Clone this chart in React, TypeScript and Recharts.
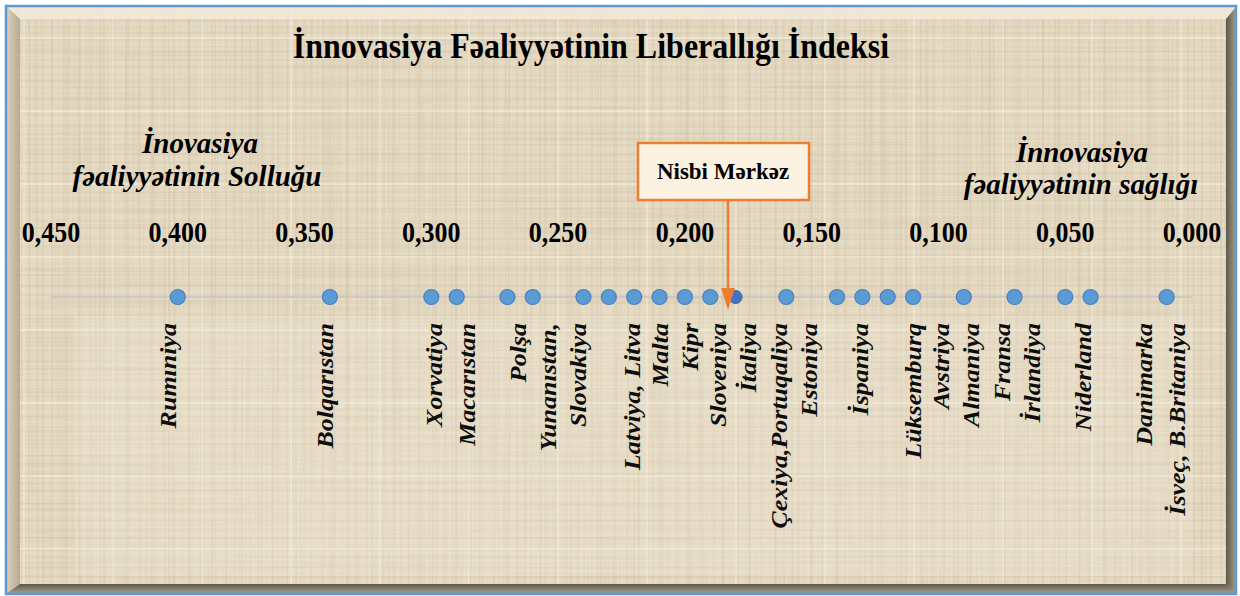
import React from "react";
import { ScatterChart, Scatter, XAxis, YAxis, ReferenceDot } from "recharts";

const W = 1240;
const H = 596;
const SERIF = '"Liberation Serif", "Times New Roman", serif';

// scale ticks, read right to left (0,450 on the left)
const axisTicks = [0.45, 0.4, 0.35, 0.3, 0.25, 0.2, 0.15, 0.1, 0.05, 0];

// index values of the blue points
const dotValues = [
  0.4, 0.34, 0.3, 0.29, 0.27, 0.26, 0.24, 0.23, 0.22, 0.21, 0.2, 0.19, 0.16,
  0.14, 0.13, 0.12, 0.11, 0.09, 0.07, 0.05, 0.04, 0.01,
];
const centerValue = 0.18; // "Nisbi Mərkəz" point
const centerArrow = 0.183;

const countryNames = [
  "Rumıniya",
  "Bolqarıstan",
  "Xorvatiya",
  "Macarıstan",
  "Polşa",
  "Yunanıstan,",
  "Slovakiya",
  "Latviya, Litva",
  "Malta",
  "Kipr",
  "Sloveniya",
  "İtaliya",
  "Çexiya,Portuqaliya",
  "Estoniya",
  "İspaniya",
  "Lüksemburq",
  "Avstriya",
  "Almaniya",
  "Fransa",
  "İrlandiya",
  "Niderland",
  "Danimarka",
  "İsveç, B.Britaniya",
];
// where each name sits on the scale
const countryLabelAt = [
  0.404, 0.342, 0.299, 0.286, 0.266, 0.254, 0.242, 0.221, 0.21, 0.198, 0.187,
  0.175, 0.163, 0.151, 0.131, 0.11, 0.099, 0.087, 0.075, 0.063, 0.043, 0.019,
  0.006,
];

const dots = dotValues.map((v) => ({ x: v, y: 0 }));
const center = [{ x: centerValue, y: 0 }];
const names = countryNames.map((n, i) => ({ x: countryLabelAt[i], y: 0, name: n }));

const fmt = (v: number) => v.toFixed(3).replace(".", ",");

function Background() {
  return (
    <svg width={W} height={H} style={{ position: "absolute", left: 0, top: 0 }}>
      <defs>
        <pattern id="weaveA" width="61" height="47" patternUnits="userSpaceOnUse">
          <path d="M0 4H61M0 13H61M0 21H61M0 33H61M0 40H61" stroke="#cbbb9c" strokeWidth="1.2" opacity="0.35" />
          <path d="M6 0V47M18 0V47M29 0V47M43 0V47M52 0V47" stroke="#cbbb9c" strokeWidth="1.4" opacity="0.3" />
        </pattern>
        <pattern id="weaveB" width="89" height="73" patternUnits="userSpaceOnUse">
          <path d="M0 9H89M0 27H89M0 52H89M0 66H89" stroke="#c2b292" strokeWidth="1" opacity="0.25" />
          <path d="M11 0V73M37 0V73M64 0V73M80 0V73" stroke="#c2b292" strokeWidth="1.6" opacity="0.22" />
          <path d="M0 38H89" stroke="#f8f2e4" strokeWidth="2" opacity="0.5" />
          <path d="M24 0V73" stroke="#f8f2e4" strokeWidth="2" opacity="0.4" />
        </pattern>
        <filter id="streakH" x="0" y="0" width="100%" height="100%">
          <feTurbulence type="fractalNoise" baseFrequency="0.004 0.35" numOctaves="2" seed="4" />
          <feColorMatrix type="matrix" values="0 0 0 0 0.62  0 0 0 0 0.54  0 0 0 0 0.40  1.3 0 0 0 -0.55" />
        </filter>
        <filter id="streakV" x="0" y="0" width="100%" height="100%">
          <feTurbulence type="fractalNoise" baseFrequency="0.35 0.004" numOctaves="2" seed="9" />
          <feColorMatrix type="matrix" values="0 0 0 0 0.62  0 0 0 0 0.54  0 0 0 0 0.40  1.3 0 0 0 -0.55" />
        </filter>
        <linearGradient id="rightBevel" x1="0" x2="1">
          <stop offset="0" stopColor="#5e584b" />
          <stop offset="1" stopColor="#a49c8a" />
        </linearGradient>
        <linearGradient id="bottomBevel" x1="0" x2="0" y1="0" y2="1">
          <stop offset="0" stopColor="#5e584b" />
          <stop offset="1" stopColor="#a49c8a" />
        </linearGradient>
        <linearGradient id="leftBevel" x1="0" x2="1">
          <stop offset="0" stopColor="#d9cdb5" />
          <stop offset="1" stopColor="#aea48f" />
        </linearGradient>
      </defs>
      <rect width={W} height={H} fill="#ffffff" />
      <rect x={6} y={6} width={1230} height={588} fill="#e7dcc5" />
      <rect x={6} y={6} width={1230} height={588} filter="url(#streakH)" opacity="0.6" />
      <rect x={6} y={6} width={1230} height={588} filter="url(#streakV)" opacity="0.6" />
      <rect x={6} y={6} width={1230} height={588} fill="url(#weaveA)" />
      <rect x={6} y={6} width={1230} height={588} fill="url(#weaveB)" />
      {/* bevel */}
      <polygon points="7,7 1236,7 1226,19 20,19" fill="#f2ead9" opacity="0.85" />
      <polygon points="7,7 20,19 20,584 7,593" fill="url(#leftBevel)" opacity="0.85" />
      <polygon points="1236,7 1226,19 1226,584 1236,593" fill="url(#rightBevel)" />
      <polygon points="7,593 20,584 1226,584 1236,593" fill="url(#bottomBevel)" />
      <rect x={6} y={6} width={1230} height={588} fill="none" stroke="#5b9bd5" strokeWidth={2.5} />
      {/* label panel */}
      <rect x={75} y={316} width={1118} height={260} fill="#f4eddd" opacity="0.25" />

      <text
        transform="translate(591,58) scale(1,1.1)"
        textAnchor="middle"
        fontFamily={SERIF}
        fontWeight="bold"
        fontSize={32}
        fill="#000"
      >
        İnnovasiya Fəaliyyətinin Liberallığı İndeksi
      </text>

      <g fontFamily={SERIF} fontWeight="bold" fontStyle="italic" fontSize={29} fill="#000" textAnchor="middle">
        <text x={200} y={153}>İnovasiya</text>
        <text x={197} y={186}>fəaliyyətinin Solluğu</text>
        <text x={1082} y={162}>İnnovasiya</text>
        <text x={1081} y={194}>fəaliyyətinin sağlığı</text>
      </g>
    </svg>
  );
}

function NameLabel(props: any) {
  const { cx, cy, payload } = props;
  return (
    <text
      transform={`translate(${cx + 8},${cy + 26}) rotate(-90) scale(1.13,1)`}
      textAnchor="end"
      fontFamily={SERIF}
      fontWeight="bold"
      fontStyle="italic"
      fontSize={23}
      fill="#0d0d0d"
    >
      {payload.name}
    </text>
  );
}

function Dot(props: any) {
  const { cx, cy } = props;
  return <circle cx={cx} cy={cy} r={7.5} fill="#5b9bd5" stroke="#4a7fc0" strokeWidth={1.2} />;
}

function CenterDot(props: any) {
  const { cx, cy } = props;
  return <circle cx={cx} cy={cy} r={6.5} fill="#4472c4" stroke="#3b64b0" strokeWidth={1} />;
}

function Callout(props: any) {
  const { cx, cy } = props;
  const bx = cx - 90;
  return (
    <g>
      <rect x={bx} y={143} width={171} height={57} fill="#fbf2e2" stroke="#ed7d31" strokeWidth={2.5} />
      <text x={bx + 85} y={179} textAnchor="middle" fontFamily={SERIF} fontWeight="bold" fontSize={23} fill="#000">
        Nisbi Mərkəz
      </text>
      <line x1={cx} y1={200} x2={cx} y2={cy - 8} stroke="#ed7d31" strokeWidth={2.5} />
      <polygon points={`${cx - 7},${cy - 9} ${cx + 7},${cy - 9} ${cx},${cy + 13}`} fill="#ed7d31" />
    </g>
  );
}

function TopTick(props: any) {
  const { x, y, payload } = props;
  return (
    <text
      transform={`translate(${x},${y}) scale(1,1.12)`}
      textAnchor="middle"
      fontFamily={SERIF}
      fontWeight="bold"
      fontSize={26}
      fill="#000"
    >
      {fmt(payload.value)}
    </text>
  );
}

export default function App() {
  return (
    <div style={{ position: "relative", width: W, height: H }}>
      <style>{"body{margin:0}"}</style>
      <Background />
      <div style={{ position: "absolute", left: 0, top: 0 }}>
        <ScatterChart width={W} height={H} margin={{ top: 230, right: 48, bottom: 279, left: 51 }}>
          <XAxis
            xAxisId="top"
            orientation="top"
            height={20}
            type="number"
            dataKey="x"
            domain={[0, 0.45]}
            reversed
            ticks={axisTicks}
            interval={0}
            axisLine={false}
            tickLine={false}
            tickSize={0}
            tickMargin={8}
            tick={<TopTick />}
          />
          <XAxis
            xAxisId="bottom"
            orientation="bottom"
            height={20}
            type="number"
            dataKey="x"
            domain={[0, 0.45]}
            reversed
            ticks={axisTicks}
            interval={0}
            tick={false}
            tickSize={7}
            axisLine={{ stroke: "#c4c4c4", strokeWidth: 1.6 }}
            tickLine={{ stroke: "#c4c4c4", strokeWidth: 1.2 }}
          />
          <YAxis type="number" dataKey="y" domain={[0, 1]} hide />
          <Scatter xAxisId="top" data={names} shape={<NameLabel />} isAnimationActive={false} />
          <Scatter xAxisId="bottom" data={dots} shape={<Dot />} isAnimationActive={false} />
          <Scatter xAxisId="bottom" data={center} shape={<CenterDot />} isAnimationActive={false} />
          <ReferenceDot xAxisId="bottom" x={centerArrow} y={0} shape={<Callout />} />
        </ScatterChart>
      </div>
    </div>
  );
}
